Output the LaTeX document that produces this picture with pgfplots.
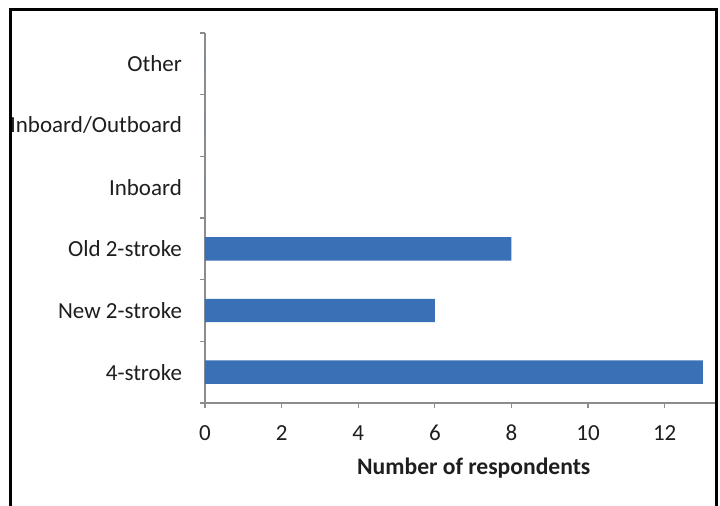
\documentclass[border=0pt]{standalone}
\usepackage{fontspec}
\setmainfont{Carlito}
\usepackage{pgfplots}
\pgfplotsset{compat=1.18}
\definecolor{barblue}{RGB}{58,112,182}
\definecolor{axgray}{RGB}{140,140,140}
\definecolor{txt}{RGB}{30,30,30}
\begin{document}
\begin{tikzpicture}
\useasboundingbox (0,0) rectangle (360pt,253pt);
\fill[white] (0,0) rectangle (360pt,253pt);
\begin{axis}[
  at={(102.5pt,51.5pt)}, anchor=south west,
  scale only axis,
  width=255.5pt, height=185pt,
  xmin=0, xmax=13.34,
  ymin=-0.5, ymax=5.5,
  xbar, bar width=0.38,
  axis x line*=bottom, axis y line*=left,
  axis line style={axgray, line width=0.8pt, -},
  tick align=outside,
  tick style={axgray, line width=0.6pt},
  major tick length=2.5pt,
  minor tick length=2.5pt,
  xtick={0,2,...,12},
  ytick={0,1,2,3,4,5},
  yticklabels={4-stroke,New 2-stroke,Old 2-stroke,Inboard,Inboard/Outboard,Other},
  minor ytick={-0.5,0.5,...,5.5},
  every major y tick/.append style={draw opacity=0},
  every minor y tick/.append style={axgray, line width=0.6pt, draw opacity=1},
  /pgf/number format/assume math mode=true,
  ticklabel style={font=\fontsize{11.5}{13}\selectfont, text=txt},
  xticklabel style={anchor=center, yshift=-12.5pt},
  yticklabel style={anchor=east, xshift=-5.5pt},
  xlabel={Number of respondents},
  xlabel style={font=\fontsize{11.8}{13}\selectfont\bfseries, text=txt, at={(axis description cs:0.526,-0.176)}, anchor=center},
  clip=false,
]
\addplot[fill=barblue, draw=none] coordinates {(13,0) (6,1) (8,2) (0,3) (0,4) (0,5)};
\end{axis}
\draw[black, line width=1.5pt] (5.25pt,0) -- (5.25pt,248pt) -- (358.25pt,248pt) -- (358.25pt,0);
\end{tikzpicture}
\end{document}
